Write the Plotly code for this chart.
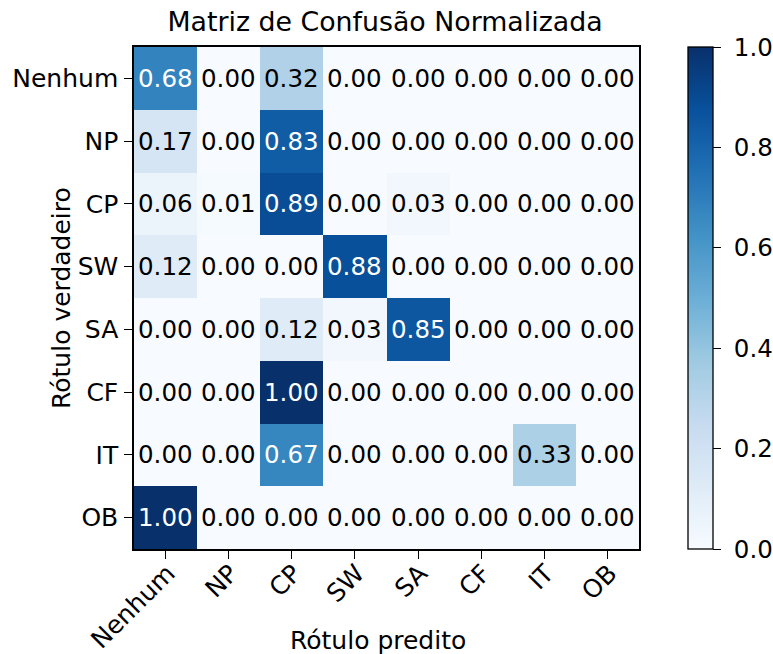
import plotly.graph_objects as go

labels = ["Nenhum", "NP", "CP", "SW", "SA", "CF", "IT", "OB"]
matrix = [
    [0.68, 0.00, 0.32, 0.00, 0.00, 0.00, 0.00, 0.00],
    [0.17, 0.00, 0.83, 0.00, 0.00, 0.00, 0.00, 0.00],
    [0.06, 0.01, 0.89, 0.00, 0.03, 0.00, 0.00, 0.00],
    [0.12, 0.00, 0.00, 0.88, 0.00, 0.00, 0.00, 0.00],
    [0.00, 0.00, 0.12, 0.03, 0.85, 0.00, 0.00, 0.00],
    [0.00, 0.00, 1.00, 0.00, 0.00, 0.00, 0.00, 0.00],
    [0.00, 0.00, 0.67, 0.00, 0.00, 0.00, 0.33, 0.00],
    [1.00, 0.00, 0.00, 0.00, 0.00, 0.00, 0.00, 0.00],
]
cbar_ticks = [0.0, 0.2, 0.4, 0.6, 0.8, 1.0]

# matplotlib "Blues" colormap stops
blues = [
    [0.000, "#f7fbff"], [0.125, "#deebf7"], [0.250, "#c6dbef"],
    [0.375, "#9ecae1"], [0.500, "#6baed6"], [0.625, "#4292c6"],
    [0.750, "#2171b5"], [0.875, "#08519c"], [1.000, "#08306b"],
]

FONT = "DejaVu Sans"
W, H = 773, 654
L, R, T, B = 134, 134, 47, 105
PW, PH = W - L - R, H - T - B

fig = go.Figure(go.Heatmap(
    z=matrix, x=labels, y=labels,
    colorscale=blues, zmin=0, zmax=1,
    xgap=0, ygap=0,
    colorbar=dict(
        x=(688 - L) / PW, xanchor="left", xref="paper",
        y=0, yanchor="bottom", len=1, lenmode="fraction",
        thickness=25, thicknessmode="pixels",
        outlinecolor="black", outlinewidth=1.3,
        tickvals=cbar_ticks, ticktext=[f"\u00a0{v:.1f}" for v in cbar_ticks],
        ticks="outside", ticklen=8, tickwidth=1.3, tickcolor="black",
        tickfont=dict(family=FONT, size=24.5, color="black"),
        xpad=0, ypad=0,
    ),
    hoverinfo="skip",
))

# value labels on each cell; white text on dark cells
thresh = max(max(r) for r in matrix) / 2
annotations = []
for i, row in enumerate(matrix):
    for j, v in enumerate(row):
        annotations.append(dict(
            x=labels[j], y=labels[i], text=f"{v:.2f}", showarrow=False,
            font=dict(family=FONT, size=24.5, color="white" if v > thresh else "black"),
            xref="x", yref="y",
        ))

# axis titles
annotations.append(dict(
    text="Rótulo predito", x=(378 - L) / PW, y=-(640 - (T + PH)) / PH,
    xref="paper", yref="paper", xanchor="center", yanchor="middle", showarrow=False,
    font=dict(family=FONT, size=25, color="black"),
))
annotations.append(dict(
    text="Rótulo verdadeiro", x=-(L - 61) / PW, y=0.5, textangle=-90,
    xref="paper", yref="paper", xanchor="center", yanchor="middle", showarrow=False,
    font=dict(family=FONT, size=25, color="black"),
))

fig.update_layout(
    width=W, height=H,
    margin=dict(l=L, r=R, t=T, b=B, autoexpand=False),
    paper_bgcolor="white", plot_bgcolor="white",
    title=dict(text="Matriz de Confusão Normalizada", x=(385 - 0) / W, xref="container",
               xanchor="center", y=1 - 22 / H, yanchor="middle",
               font=dict(family=FONT, size=26.8, color="black")),
    annotations=annotations,
    font=dict(family=FONT, color="black"),
)
fig.update_xaxes(
    type="category", tickangle=-45, ticks="outside", ticklen=8, tickwidth=1.3,
    tickcolor="black", showline=True, linecolor="black", linewidth=1.5, mirror=True,
    tickfont=dict(family=FONT, size=25, color="black"),
    ticklabelstandoff=-10, ticklabelshift=2,
    showgrid=False, zeroline=False, automargin=False,
)
fig.update_yaxes(
    type="category", autorange="reversed", ticks="outside", ticklen=8, tickwidth=1.3,
    tickcolor="black", showline=True, linecolor="black", linewidth=1.5, mirror=True,
    tickfont=dict(family=FONT, size=25, color="black"), ticklabelstandoff=1,
    showgrid=False, zeroline=False, automargin=False,
)

fig.write_html("out.html")
